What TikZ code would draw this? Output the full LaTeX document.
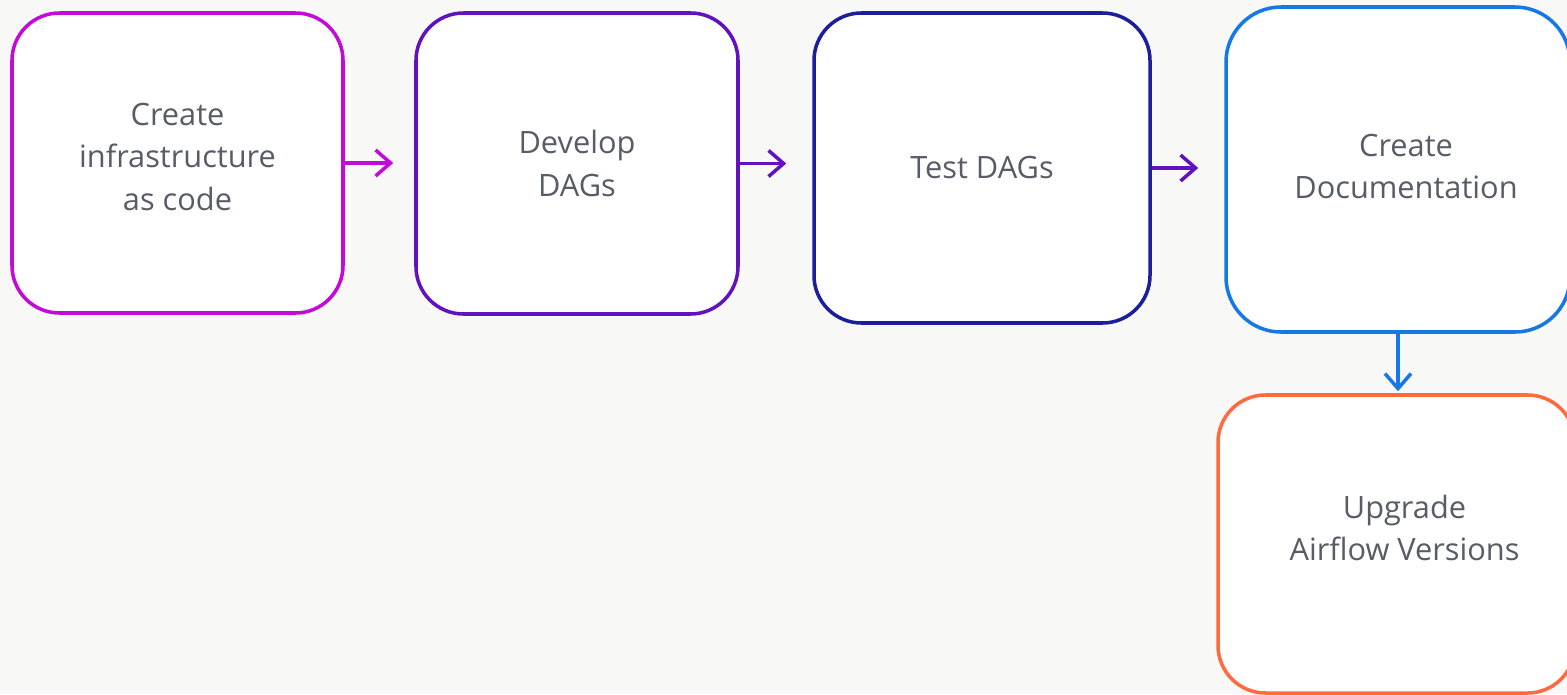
\documentclass[tikz,border=0pt]{standalone}
\usepackage{fontspec}
\setmainfont{Open Sans}
\usetikzlibrary{arrows.meta, positioning, calc}
\definecolor{paper}{HTML}{F8F8F6}
\definecolor{textgray}{HTML}{575C66}
\definecolor{magentaline}{HTML}{C30AD9}
\definecolor{purpleline}{HTML}{6211BE}
\definecolor{navyline}{HTML}{1A1F9C}
\definecolor{blueline}{HTML}{1478E6}
\definecolor{orangeline}{HTML}{FF6B3D}
\begin{document}
\begin{tikzpicture}[stage/.style={rectangle,rounded corners=0.95cm,draw,line width=2pt,fill=white},caption/.style={align=center,text=textgray,font=\fontsize{17.5}{24.4}\selectfont},flow/.style={-{Straight Barb[length=0.3cm,width=0.52cm]},line width=2pt}]
\fill[paper] (0,0) rectangle (31.34,-13.88);
\useasboundingbox (0,0) rectangle (31.34,-13.88);
\clip (0,0) rectangle (31.34,-13.88);
\node[stage,draw=magentaline,minimum width=6.62cm,minimum height=6.00cm,label={[caption,yshift=0.12cm]center:Create\\infrastructure\\as code}] (infra) at (3.55,-3.26) {};
\node[stage,draw=purpleline,minimum width=6.44cm,minimum height=6.02cm,label={[caption]center:Develop\\DAGs}] (develop) at (11.54,-3.27) {};
\node[stage,draw=navyline,minimum width=6.72cm,minimum height=6.20cm,label={[caption]center:Test DAGs}] (test) at (19.64,-3.36) {};
\node[stage,draw=blueline,rounded corners=1.1cm,minimum width=6.88cm,minimum height=6.50cm,label={[caption,xshift=0.16cm,yshift=0.06cm]center:Create\\Documentation}] (docs) at (27.96,-3.39) {};
\node[stage,draw=orangeline,minimum width=7.14cm,minimum height=5.96cm,label={[caption,xshift=0.16cm,yshift=0.32cm]center:Upgrade\\Airflow Versions}] (upgrade) at (27.93,-10.88) {};
\draw[flow,magentaline,shorten >=0.42cm] (infra.east) -- (develop.west |- infra.east);
\draw[flow,purpleline,shorten >=0.52cm] (develop.east) -- (test.west |- develop.east);
\draw[flow,purpleline,shorten >=0.52cm] (test.east) -- (docs.west |- test.east);
\draw[flow,blueline,shorten >=0.04cm] (docs.south) -- (docs.south |- upgrade.north);
\end{tikzpicture}
\end{document}
